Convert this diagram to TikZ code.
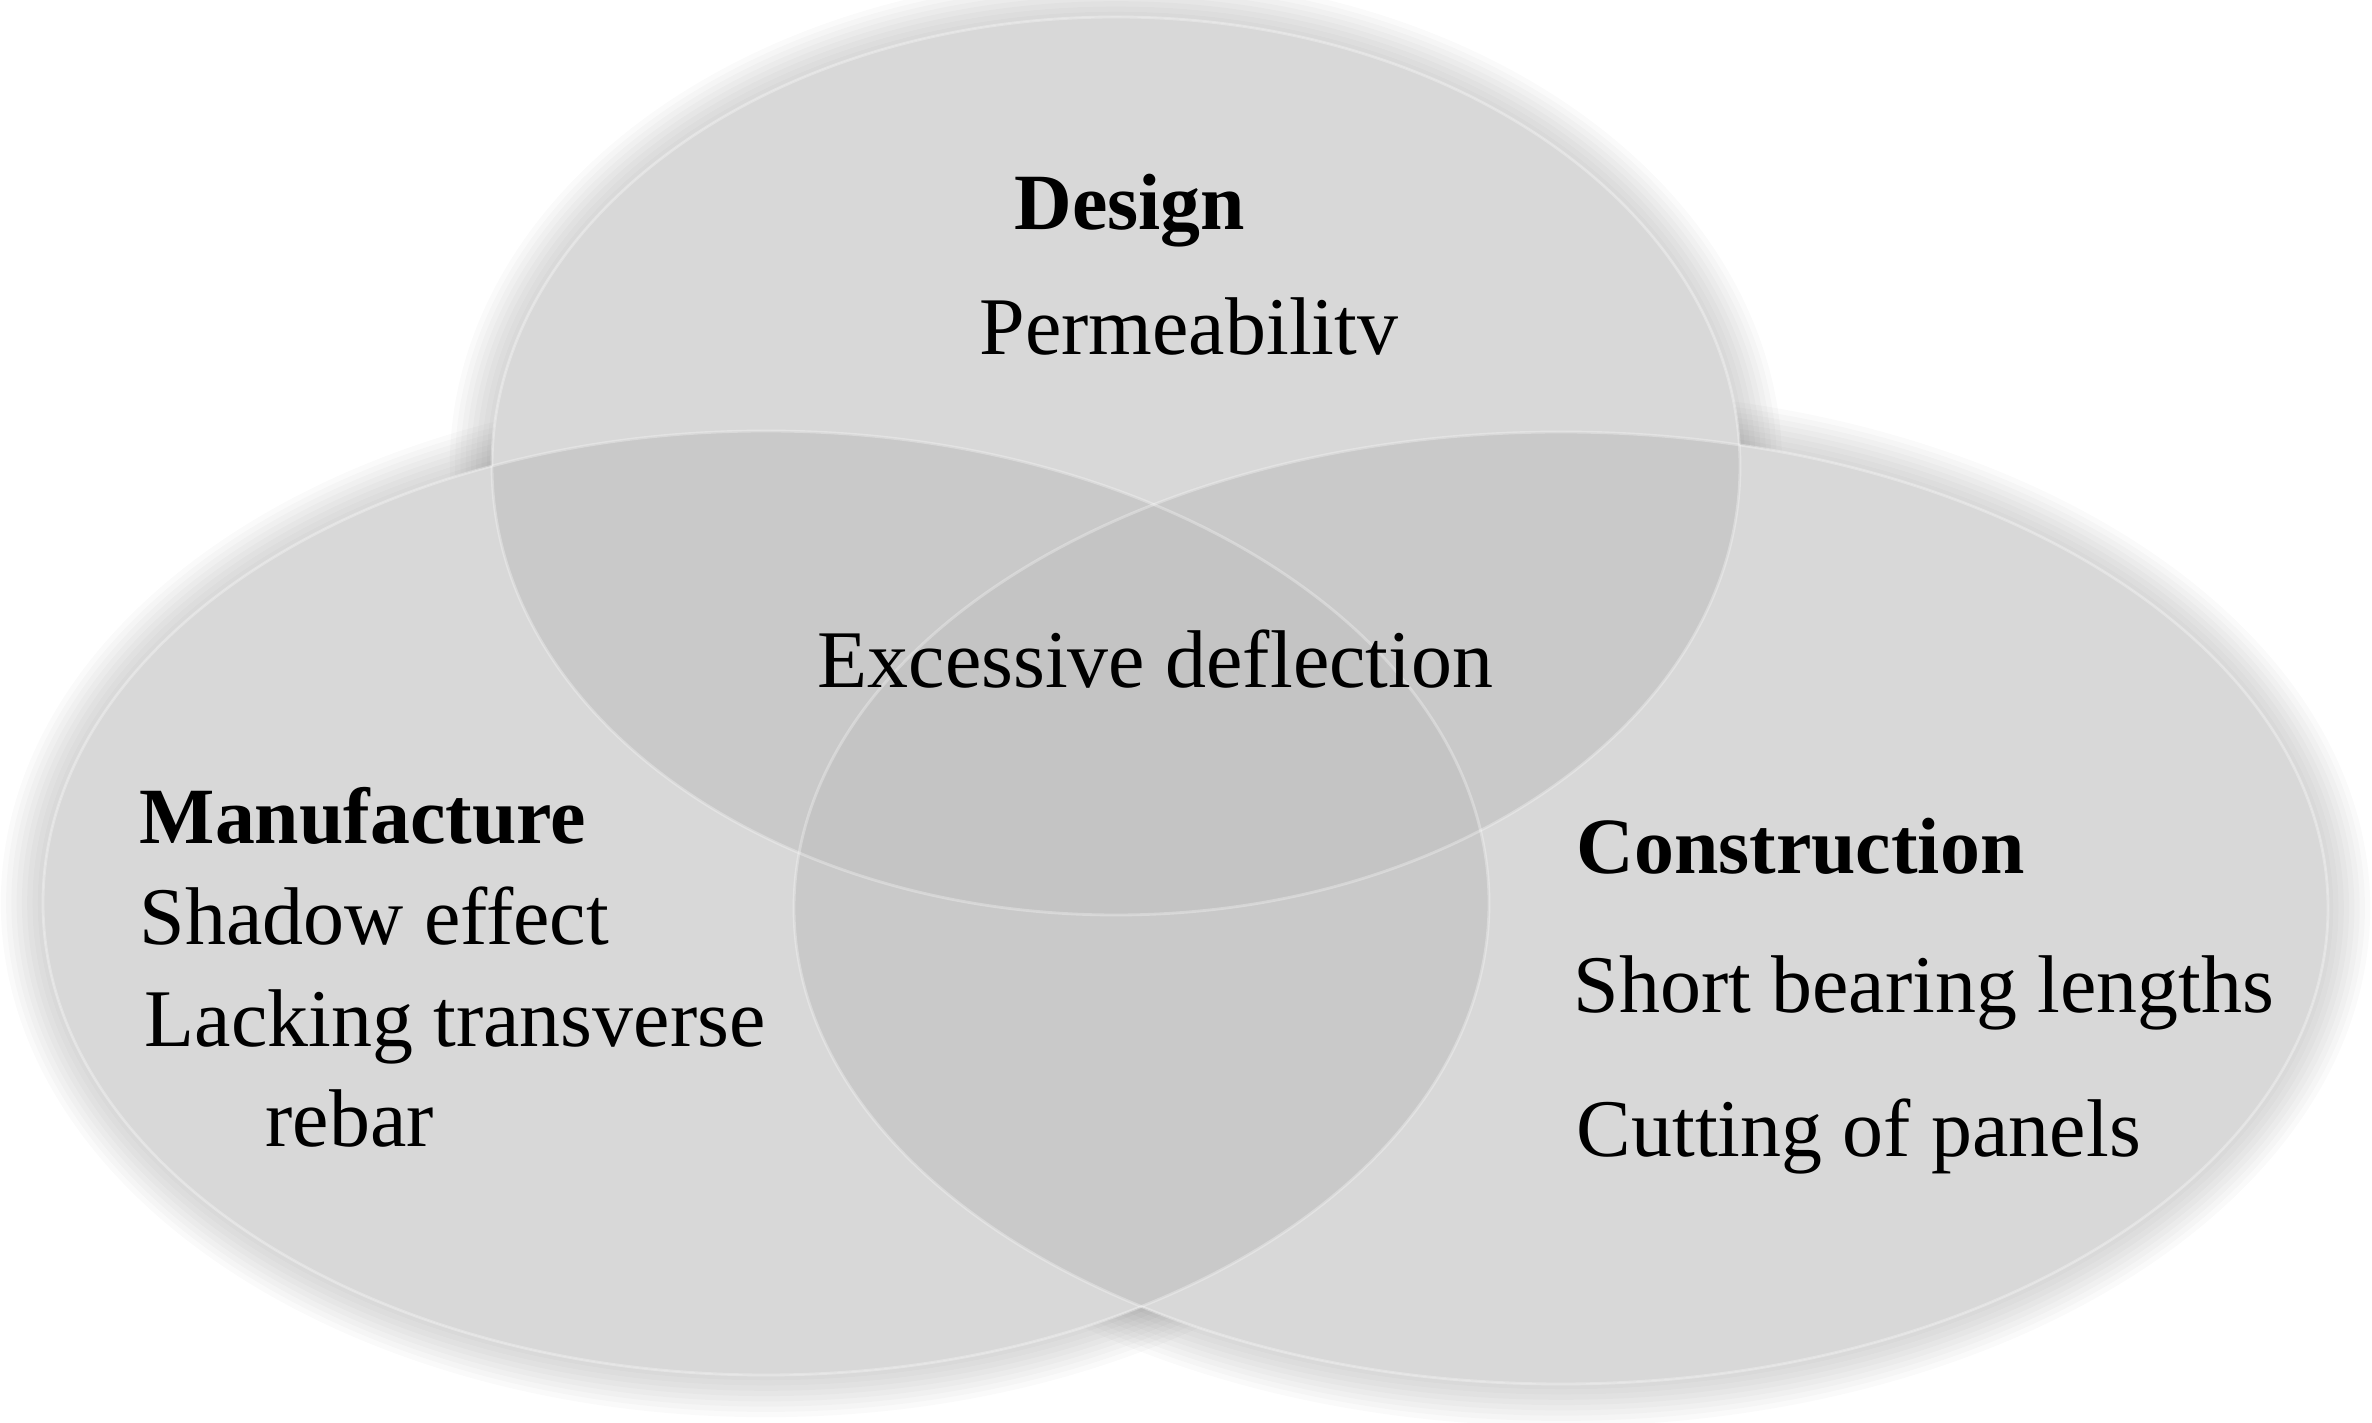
\documentclass[tikz,border=0pt]{standalone}
\usepackage{fontspec}
\setmainfont{Liberation Serif}
\usetikzlibrary{positioning}

\definecolor{vennfill}{gray}{0.76}
\def\vennlist{11.16/9.57/6.24/4.49, 7.66/5.20/7.23/4.72, 15.61/5.15/7.67/4.76}

\begin{document}
\begin{tikzpicture}[
    label/.style={anchor=base west, inner sep=0pt, font=\fontsize{23.3}{27}\selectfont},
    head/.style={label, font=\fontsize{22.7}{27}\selectfont\bfseries}
]
\useasboundingbox (0,0) rectangle (23.72,14.23);

% soft halo round each set
\foreach \cx/\cy/\rx/\ry in \vennlist {
  \foreach \w in {3,6,...,24}
    \draw[black, opacity=0.02, line width=\w pt] (\cx,\cy) ellipse [x radius=\rx, y radius=\ry];
}
\foreach \cx/\cy/\rx/\ry in \vennlist
  \fill[white] (\cx,\cy) ellipse [x radius=\rx, y radius=\ry];

% the three sets
\foreach \cx/\cy/\rx/\ry in \vennlist
  \fill[vennfill, fill opacity=0.64] (\cx,\cy) ellipse [x radius=\rx, y radius=\ry];
\foreach \cx/\cy/\rx/\ry in \vennlist
  \draw[white, opacity=0.3, line width=0.8pt] (\cx,\cy) ellipse [x radius=\rx, y radius=\ry];

% texts
\node[head] (design) at (10.14,11.93) {Design};
\node[label] (perm) at (9.79,10.68) {Permeabilitv};
\node[label] (defl) at (8.17,7.35) {Excessive deflection};

\node[head] (manu) at (1.39,5.79) {Manufacture};
\node[label] (shadow) at (1.39,4.78) {Shadow effect};
\node[label] (lacking) at (1.44,3.76) {Lacking transverse};
\node[label] (rebar) at (2.65,2.76) {rebar};

\node[head] (constr) at (15.76,5.49) {Construction};
\node[label] (bearing) at (15.73,4.10) {Short bearing lengths};
\node[label] (cutting) at (15.76,2.66) {Cutting of panels};
\end{tikzpicture}
\end{document}
